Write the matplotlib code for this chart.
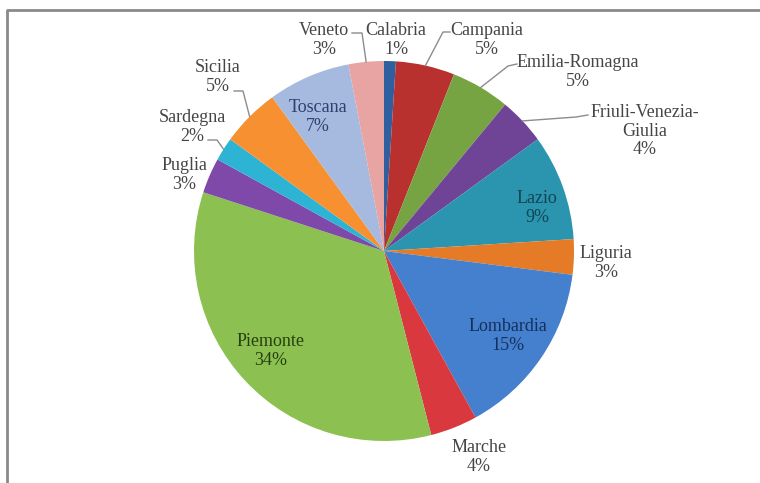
import matplotlib
matplotlib.use("Agg")
import matplotlib.pyplot as plt
import numpy as np

regions = ["Calabria", "Campania", "Emilia-Romagna", "Friuli-Venezia-\nGiulia", "Lazio",
           "Liguria", "Lombardia", "Marche", "Piemonte", "Puglia", "Sardegna",
           "Sicilia", "Toscana", "Veneto"]
values = [1, 5, 5, 4, 9, 3, 15, 4, 34, 3, 2, 5, 7, 3]
colors = ["#2F5F9E", "#B8312F", "#77A443", "#6F4396", "#2B94AE", "#E57B27", "#4480CD",
          "#D9383F", "#8CC152", "#7E49A8", "#2DB3D4", "#F79030", "#A6BAE0", "#E8A4A3"]

W, H = 760, 483
# label centre positions in pixel coords (x, y from top)
label_pos = {
    "Calabria": (396, 40), "Campania": (487, 40), "Emilia-Romagna": (578, 72),
    "Friuli-Venezia-\nGiulia": (645, 131), "Lazio": (537, 208), "Liguria": (606, 263),
    "Lombardia": (508, 336), "Marche": (479, 457), "Piemonte": (271, 351),
    "Puglia": (184, 175), "Sardegna": (192, 127), "Sicilia": (218, 77),
    "Toscana": (318, 117), "Veneto": (324, 40),
}
inside_color = {"Lazio": "#134552", "Lombardia": "#16305C", "Piemonte": "#273F0F",
                "Toscana": "#2E406C"}
# leader line start points (text side), elbow point
leaders = {
    "Veneto": [(352, 33), (362, 33)],
    "Campania": [(450, 32), (443, 32)],
    "Emilia-Romagna": [(517, 64), (508, 66)],
    "Friuli-Venezia-\nGiulia": [(588, 115), (576, 117)],
    "Sicilia": [(234, 91), (243, 91)],
    "Sardegna": [(208, 140), (217, 140)],
}

fig = plt.figure(figsize=(W / 100, H / 100), dpi=100)
ax = fig.add_axes([0, 0, 1, 1])

cx, cy, R = 384, H - 251, 190
wedges, _ = ax.pie(values, colors=colors, startangle=90, counterclock=False,
                   center=(cx, cy), radius=R, frame=True,
                   wedgeprops=dict(linewidth=0))
ax.set_xlim(0, W)
ax.set_ylim(0, H)
ax.set_aspect("equal")
ax.axis("off")

# border
ax.plot([7, 7, W], [0, H - 10, H - 10], color="#8a8a8a", lw=2, solid_capstyle="butt")

font = ["Liberation Serif", "DejaVu Serif"]
for name, val, w in zip(regions, values, wedges):
    x, y = label_pos[name]
    col = inside_color.get(name, "#454545")
    ax.text(x, H - y, f"{name}\n{val}%", ha="center", va="center", fontsize=13,
            color=col, family=font, linespacing=1.1)
    if name in leaders:
        ang = np.deg2rad((w.theta1 + w.theta2) / 2)
        ex, ey = cx + R * np.cos(ang), cy + R * np.sin(ang)
        pts = leaders[name]
        xs = [p[0] for p in pts] + [ex]
        ys = [H - p[1] for p in pts] + [ey]
        ax.plot(xs, ys, color="#8c8c8c", lw=1)

fig.savefig("out.png", dpi=100)
